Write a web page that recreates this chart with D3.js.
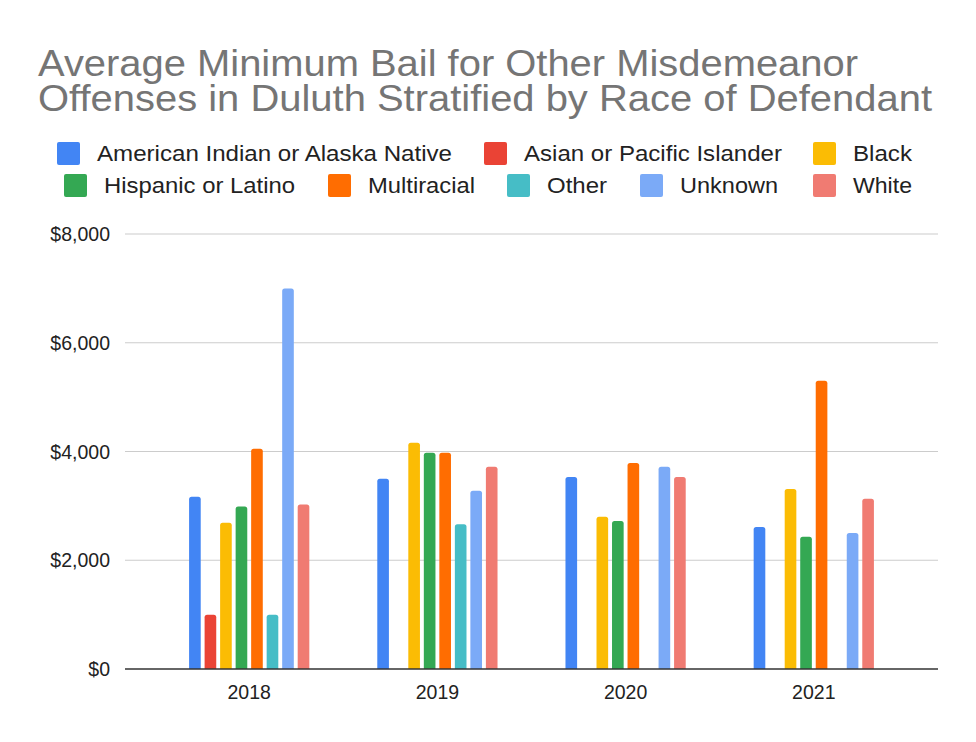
<!DOCTYPE html>
<html><head><meta charset="utf-8">
<script src="https://cdn.jsdelivr.net/npm/d3@7"></script>
<style>body{margin:0;background:#fff}text{font-family:"Liberation Sans",Arial,sans-serif}</style>
</head><body><svg id="c" width="976" height="742"></svg>
<script>
const years = ["2018","2019","2020","2021"];
const races = ["American Indian or Alaska Native","Asian or Pacific Islander","Black","Hispanic or Latino","Multiracial","Other","Unknown","White"];
const colors = ["#4285f4","#ea4335","#fbbc04","#34a853","#ff6d01","#46bdc6","#7baaf7","#f07b72"];
const americanIndian = [3170, 3500, 3530, 2610];
const asianPacific   = [1000, null, null, null];
const black          = [2690, 4160, 2800, 3310];
const hispanic       = [2990, 3975, 2720, 2430];
const multiracial    = [4050, 3975, 3790, 5300];
const other          = [1000, 2660, null, null];
const unknown        = [7000, 3280, 3720, 2500];
const white          = [3025, 3720, 3530, 3130];
const series = [americanIndian, asianPacific, black, hispanic, multiracial, other, unknown, white];
const yTicks = [0, 2000, 4000, 6000, 8000];

const svg = d3.select("#c");
svg.append("text").attr("x",38).attr("y",76).attr("font-size",37).attr("fill","#757575")
  .attr("textLength",820).attr("lengthAdjust","spacingAndGlyphs").text("Average Minimum Bail for Other Misdemeanor");
svg.append("text").attr("x",38).attr("y",111).attr("font-size",37).attr("fill","#757575")
  .attr("textLength",894).attr("lengthAdjust","spacingAndGlyphs").text("Offenses in Duluth Stratified by Race of Defendant");

// legend layout: [text x, baseline row y, text width]
const legendPos = [[97,153,355],[524,153,258],[853,153,59],[104,185,191],[368,185,107],[547,185,60],[680,185,98],[853,185,59]];
races.forEach((r,i)=>{
  const [lx,ly,lw] = legendPos[i];
  svg.append("rect").attr("x",lx-40).attr("y",ly-11).attr("width",23).attr("height",23).attr("rx",2).attr("fill",colors[i]);
  svg.append("text").attr("x",lx).attr("y",ly+8).attr("font-size",22).attr("fill","#222")
    .attr("textLength",lw).attr("lengthAdjust","spacingAndGlyphs").text(r);
});

const L=125,R=938,T=234,B=669;
const y = d3.scaleLinear().domain([0,8000]).range([B,T]);
const x0 = d3.scaleBand().domain(years).range([L,R]).paddingInner(0).paddingOuter(0.16);
const x1 = d3.scaleBand().domain(d3.range(8)).range([0,128]).padding(0.25);

svg.append("g").selectAll("line").data(yTicks.slice(1)).join("line")
  .attr("x1",L).attr("x2",R).attr("y1",d=>y(d)).attr("y2",d=>y(d)).attr("stroke","#ccc").attr("stroke-width",1.2);
svg.append("g").selectAll("text").data(yTicks).join("text")
  .attr("x",110).attr("y",d=>y(d)+7).attr("text-anchor","end").attr("font-size",19.5).attr("fill","#222")
  .text(d=>"$"+d3.format(",")(d));

years.forEach((yr,gi)=>{
  const gx = x0(yr)+x0.bandwidth()/2-64;
  series.forEach((s,si)=>{
    const v=s[gi]; if(v==null) return;
    const bx=gx+x1(si), w=x1.bandwidth(), top=y(v), r=2.5;
    svg.append("path").attr("fill",colors[si])
      .attr("d",`M${bx},${B}V${top+r}Q${bx},${top} ${bx+r},${top}H${bx+w-r}Q${bx+w},${top} ${bx+w},${top+r}V${B}Z`);
  });
  svg.append("text").attr("x",x0(yr)+x0.bandwidth()/2).attr("y",B+30).attr("text-anchor","middle")
    .attr("font-size",19.5).attr("fill","#222").text(yr);
});
svg.append("line").attr("x1",L).attr("x2",R).attr("y1",B).attr("y2",B).attr("stroke","#333").attr("stroke-width",1.5);
</script></body></html>
